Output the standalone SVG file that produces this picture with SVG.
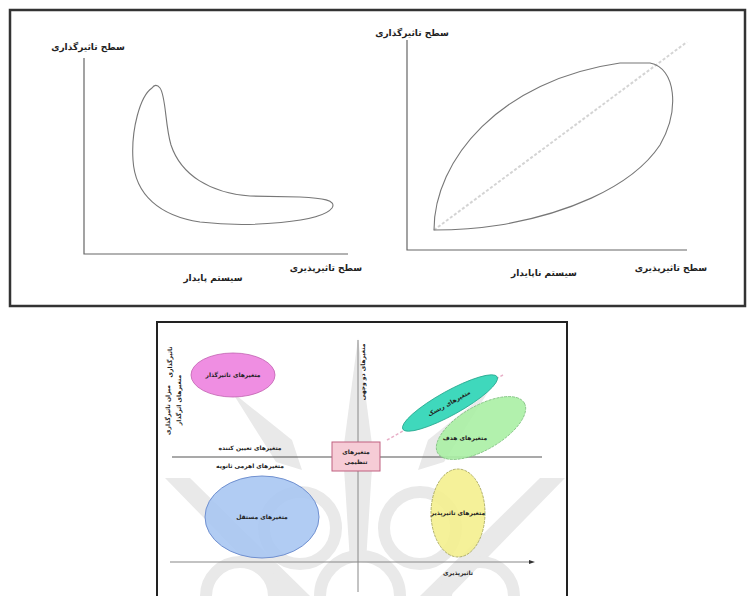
<svg xmlns="http://www.w3.org/2000/svg" width="748" height="596" viewBox="0 0 748 596">
<style>
text{font-family:"DejaVu Sans","Noto Sans",sans-serif;font-weight:bold;fill:#222;text-anchor:middle}
.lbl{font-size:9px}
.sm{font-size:6px}
.axis{stroke:#666;stroke-width:1.2;fill:none}
.curve{stroke:#777;stroke-width:1.1;fill:none}
.wm{fill:#e9e9e9;stroke:none}
.wmr{fill:none;stroke:#e9e9e9;stroke-width:12}
</style>
<rect width="748" height="596" fill="#ffffff"/>
<g id="top-frame">
<rect x="10" y="10" width="735" height="296" fill="#ffffff" stroke="#333" stroke-width="2.5"/>
</g>
<g id="stable-chart">
<path class="axis" d="M84,58 L84,254 L348,254"/>
<path class="curve" d="M152,88 C140,96 131,130 133,160 C135,195 160,216 200,222 C250,228 322,222 332,208 C337,200 322,198 300,197 L250,196 C210,193 181,175 171,145 C165,125 166,96 160,88 C157,84 154,85 152,88 Z"/>
<text class="lbl" x="88" y="50">سطح تاثیرگذاری</text>
<text class="lbl" x="326" y="271">سطح تاثیرپذیری</text>
<text class="lbl" x="213" y="281">سیستم پایدار</text>
</g>
<g id="unstable-chart">
<path class="axis" d="M407,40 L407,250 L687,250"/>
<path d="M434,230 L687,42" stroke="#d4d4d4" stroke-width="2" stroke-dasharray="3,2" fill="none"/>
<path class="curve" d="M434,230 C434,160 500,80 620,63 L650,63 C676,68 680,110 660,145 C630,190 560,215 500,225 C475,229 455,230 434,230 Z"/>
<text class="lbl" x="412" y="36">سطح تاثیرگذاری</text>
<text class="lbl" x="671" y="271">سطح تاثیرپذیری</text>
<text class="lbl" x="544" y="276">سیستم ناپایدار</text>
</g>
<g id="micmac-frame">
<rect x="157" y="322" width="410" height="280" fill="#ffffff" stroke="#222" stroke-width="2"/>
</g>
<g id="watermark">
<polygon class="wm" points="358,338 373,452 366,562 350,562 343,452"/>
<polygon class="wm" points="232,392 292,440 302,470 276,462"/>
<polygon class="wm" points="488,392 428,440 418,470 444,462"/>
<polygon class="wm" points="165,478 190,478 310,596 280,596"/>
<polygon class="wm" points="565,478 540,478 420,596 450,596"/>
<circle class="wmr" cx="300" cy="528" r="36"/>
<circle class="wmr" cx="420" cy="528" r="36"/>
<circle class="wmr" cx="360" cy="596" r="40"/>
<circle class="wmr" cx="240" cy="596" r="34"/>
<circle class="wmr" cx="480" cy="596" r="34"/>
</g>
<g id="connectors">
<path d="M358,340 L358,592" stroke="#888" stroke-width="1"/>
<path d="M172,457 L542,457" stroke="#555" stroke-width="1.2"/>
<path d="M170,562 L532,562" stroke="#888" stroke-width="1.2"/>
<path d="M529,560 L535,562 L529,564 Z" fill="#333"/>
<path d="M387,440 L503,375" stroke="#e8b0c8" stroke-width="1.5" stroke-dasharray="3,2" fill="none"/>
</g>
<g id="axis-labels">
<text class="sm" transform="translate(172,362) rotate(-90)">تاثیرگذاری</text>
<text class="sm" transform="translate(170,410) rotate(-90)">میزان تاثیرگذاری</text>
<text class="sm" transform="translate(181,400) rotate(-90)">متغیرهای اثرگذار</text>
<text class="sm" transform="translate(365,372) rotate(-90)">متغیرهای دو وجهی</text>
<text class="sm" x="250" y="450">متغیرهای تعیین کننده</text>
<text class="sm" x="250" y="468">متغیرهای اهرمی ثانویه</text>
<text class="sm" x="458" y="575">تاثیرپذیری</text>
</g>
<g id="node-influential">
<ellipse cx="233" cy="375" rx="42" ry="22" fill="#ef8ee2" stroke="#c060b0" stroke-width="0.8"/>
<text class="sm" x="233" y="377">متغیرهای تاثیرگذار</text>
</g>
<g id="node-regulating">
<rect x="332" y="442" width="48" height="29" fill="#f6ccd6" stroke="#c06080" stroke-width="1"/>
<text class="sm" x="356" y="454">متغیرهای</text>
<text class="sm" x="356" y="464">تنظیمی</text>
</g>
<g id="node-risk">
<ellipse cx="450" cy="403" rx="54" ry="12" transform="rotate(-29 450 403)" fill="#3fd8bc" stroke="#2aa890" stroke-width="0.8"/>
<text class="sm" transform="translate(450,405) rotate(-29)">متغیرهای ریسک</text>
</g>
<g id="node-target">
<ellipse cx="481" cy="428" rx="50" ry="22" transform="rotate(-30 481 428)" fill="#aaf0a4" fill-opacity="0.9" stroke="#80c080" stroke-width="0.8" stroke-dasharray="3,1"/>
<text class="sm" x="465" y="440">متغیرهای هدف</text>
</g>
<g id="node-autonomous">
<ellipse cx="262" cy="517" rx="57" ry="41" fill="#a9c6f2" fill-opacity="0.9" stroke="#7090d0" stroke-width="1"/>
<text class="sm" x="262" y="519">متغیرهای مستقل</text>
</g>
<g id="node-dependent">
<ellipse cx="458" cy="513" rx="27" ry="44" fill="#f4f08e" fill-opacity="0.9" stroke="#a0a050" stroke-width="0.8" stroke-dasharray="3,1"/>
<text class="sm" x="458" y="515">متغیرهای تاثیرپذیر</text>
</g>
</svg>
